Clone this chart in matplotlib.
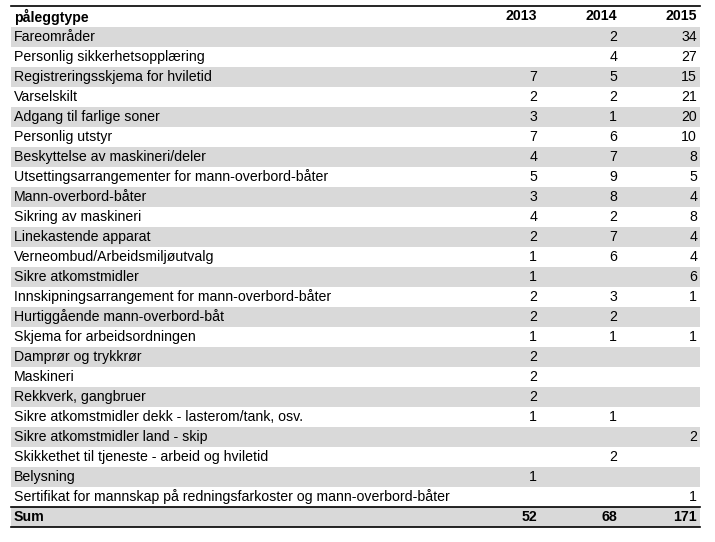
import matplotlib
matplotlib.use("Agg")
import matplotlib.pyplot as plt

plt.rcParams['font.family'] = ['Liberation Sans', 'DejaVu Sans']

header = ["påleggtype", "2013", "2014", "2015"]
categories = [
    "Fareområder",
    "Personlig sikkerhetsopplæring",
    "Registreringsskjema for hviletid",
    "Varselskilt",
    "Adgang til farlige soner",
    "Personlig utstyr",
    "Beskyttelse av maskineri/deler",
    "Utsettingsarrangementer for mann-overbord-båter",
    "Mann-overbord-båter",
    "Sikring av maskineri",
    "Linekastende apparat",
    "Verneombud/Arbeidsmiljøutvalg",
    "Sikre atkomstmidler",
    "Innskipningsarrangement for mann-overbord-båter",
    "Hurtiggående mann-overbord-båt",
    "Skjema for arbeidsordningen",
    "Damprør og trykkrør",
    "Maskineri",
    "Rekkverk, gangbruer",
    "Sikre atkomstmidler dekk - lasterom/tank, osv.",
    "Sikre atkomstmidler land - skip",
    "Skikkethet til tjeneste - arbeid og hviletid",
    "Belysning",
    "Sertifikat for mannskap på redningsfarkoster og mann-overbord-båter",
]
v2013 = [None, None, 7, 2, 3, 7, 4, 5, 3, 4, 2, 1, 1, 2, 2, 1, 2, 2, 2, 1, None, None, 1, None]
v2014 = [2, 4, 5, 2, 1, 6, 7, 9, 8, 2, 7, 6, None, 3, 2, 1, None, None, None, 1, None, 2, None, None]
v2015 = [34, 27, 15, 21, 20, 10, 8, 5, 4, 8, 4, 4, 6, 1, None, 1, None, None, None, None, 2, None, None, 1]
sums = [52, 68, 171]

fig = plt.figure(figsize=(7.15, 5.42), dpi=100)
ax = fig.add_axes([0, 0, 1, 1])
ax.set_xlim(0, 715)
ax.set_ylim(542, 0)
ax.axis('off')

left, right = 11, 700
col_x = [14, 537, 617, 697]
top = 6
head_h = 21
row_h = 20
fs = 10.2
grey = '#d9d9d9'

# header
yc = top + head_h / 2
ax.text(col_x[0], yc, header[0], ha='left', va='center', fontsize=fs, fontweight='bold')
for j in range(1, 4):
    ax.text(col_x[j], yc, header[j], ha='right', va='center', fontsize=fs, fontweight='bold')

rows = list(zip(categories, v2013, v2014, v2015))
rows.append(("Sum", sums[0], sums[1], sums[2]))
y0 = top + head_h
for i, row in enumerate(rows):
    y = y0 + i * row_h
    if i % 2 == 0:
        ax.fill_between([left, right], y, y + row_h, color=grey, lw=0)
    bold = 'bold' if row[0] == "Sum" else 'normal'
    ax.text(col_x[0], y + row_h / 2, row[0], ha='left', va='center', fontsize=fs, fontweight=bold)
    for j in range(1, 4):
        if row[j] is not None:
            ax.text(col_x[j], y + row_h / 2, str(row[j]), ha='right', va='center',
                    fontsize=fs, fontweight=bold)

y_sum = y0 + (len(rows) - 1) * row_h
ax.plot([left, right], [top, top], color='black', lw=1.2)
ax.plot([left, right], [y_sum, y_sum], color='black', lw=1.2)
ax.plot([left, right], [y_sum + row_h, y_sum + row_h], color='black', lw=1.2)

fig.savefig("out.png", dpi=100)
